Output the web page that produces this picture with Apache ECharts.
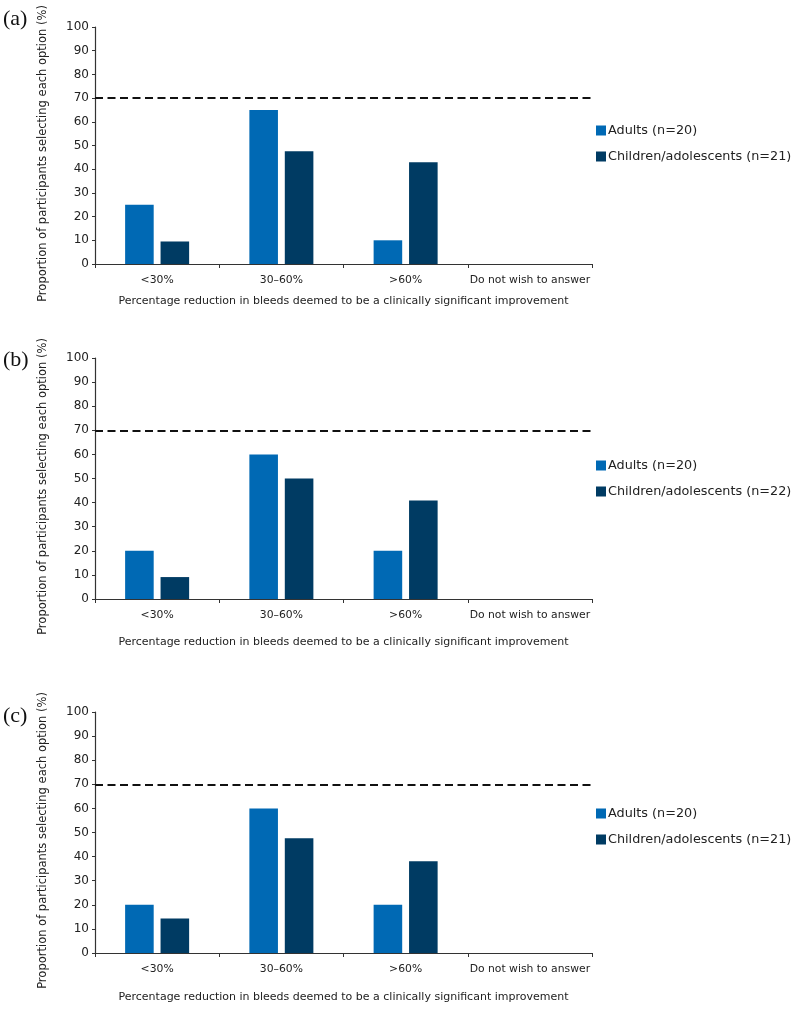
<!DOCTYPE html>
<html>
<head>
<meta charset="utf-8">
<script src="https://cdn.jsdelivr.net/npm/echarts@6/dist/echarts.min.js"></script>
<style>
html,body{margin:0;padding:0;background:#fff;}
#chart{width:798px;height:1012px;}
</style>
</head>
<body>
<div id="chart"></div>
<script>
// ---- data ----
var categories = ['<30%', '30\u201360%', '>60%', 'Do not wish to answer'];
var panelLabels = ['(a)', '(b)', '(c)'];
var adultNames = ['Adults (n=20)', 'Adults (n=20)', 'Adults (n=20)'];
var childNames = ['Children/adolescents (n=21)', 'Children/adolescents (n=22)', 'Children/adolescents (n=21)'];
var adultsA = [25, 65, 10, 0];
var childrenA = [9.5, 47.6, 42.9, 0];
var adultsB = [20, 60, 20, 0];
var childrenB = [9.1, 50, 40.9, 0];
var adultsC = [20, 60, 20, 0];
var childrenC = [14.3, 47.6, 38.1, 0];
var threshold = 70;
var yTicks = [0, 10, 20, 30, 40, 50, 60, 70, 80, 90, 100];
var xTitle = 'Percentage reduction in bleeds deemed to be a clinically significant improvement';
var yTitle = 'Proportion of participants selecting each option (%)';

var adultSets = [adultsA, adultsB, adultsC];
var childSets = [childrenA, childrenB, childrenC];

// ---- layout ----
var FONT = 'DejaVu Sans';
var TXT = '#222';
var AX = '#333';
var ADULT = '#0069b4';
var CHILD = '#003b63';
var grids = [
  {top: 27, height: 237, titleGap: 32, legendTop: 119, labelTop: 8},
  {top: 358, height: 241, titleGap: 38, legendTop: 454, labelTop: 349},
  {top: 712, height: 241, titleGap: 39, legendTop: 802, labelTop: 705}
];

var option = {
  backgroundColor: '#fff',
  animation: false,
  textStyle: {fontFamily: FONT},
  grid: [], xAxis: [], yAxis: [], series: [], legend: [], graphic: []
};

grids.forEach(function (g, i) {
  option.grid.push({left: 95, width: 497, top: g.top, height: g.height, containLabel: false});
  option.xAxis.push({
    type: 'category', gridIndex: i, data: categories,
    name: xTitle, nameLocation: 'middle', nameGap: g.titleGap,
    nameTextStyle: {fontSize: 11, color: TXT, fontFamily: FONT},
    axisLine: {lineStyle: {color: AX, width: 1.2}},
    axisTick: {show: true, inside: false, length: 4, lineStyle: {color: AX}},
    axisLabel: {fontSize: 10.8, color: TXT, margin: 11, fontFamily: FONT, interval: 0},
    splitLine: {show: false}
  });
  option.yAxis.push({
    type: 'value', gridIndex: i, min: yTicks[0], max: yTicks[yTicks.length - 1], interval: 10,
    name: yTitle, nameLocation: 'middle', nameGap: 46,
    nameTextStyle: {fontSize: 11.5, color: TXT, fontFamily: FONT, padding: [0, 16, 0, 0]},
    axisLine: {show: true, lineStyle: {color: AX, width: 1.2}},
    axisTick: {show: true, inside: false, length: 3, lineStyle: {color: AX}},
    axisLabel: {fontSize: 12, color: TXT, margin: 6, fontFamily: FONT},
    splitLine: {show: false}
  });
  option.series.push({
    type: 'bar', name: adultNames[i], xAxisIndex: i, yAxisIndex: i,
    data: adultSets[i], barWidth: '23%', barGap: '24%',
    itemStyle: {color: ADULT},
    markLine: {
      silent: true, symbol: ['none', 'none'], label: {show: false},
      lineStyle: {color: '#111', width: 2, type: [8, 4.5]},
      data: [{yAxis: threshold}]
    }
  });
  option.series.push({
    type: 'bar', name: childNames[i], xAxisIndex: i, yAxisIndex: i,
    data: childSets[i], barWidth: '23%', barGap: '24%',
    itemStyle: {color: CHILD}
  });
  option.legend.push({
    orient: 'vertical', left: 591, top: g.legendTop,
    data: [adultNames[i], childNames[i]],
    itemWidth: 10, itemHeight: 10, itemGap: 13,
    icon: 'rect', selectedMode: false,
    textStyle: {fontSize: 12.8, color: TXT, fontFamily: FONT, padding: [0, 0, 0, -3]}
  });
  option.graphic.push({
    type: 'text', left: 3, top: g.labelTop,
    style: {text: panelLabels[i], font: '22px "Liberation Serif"', fill: '#111'}
  });
});

var chart = echarts.init(document.getElementById('chart'), null, {renderer: 'canvas'});
chart.setOption(option);
</script>
</body>
</html>
